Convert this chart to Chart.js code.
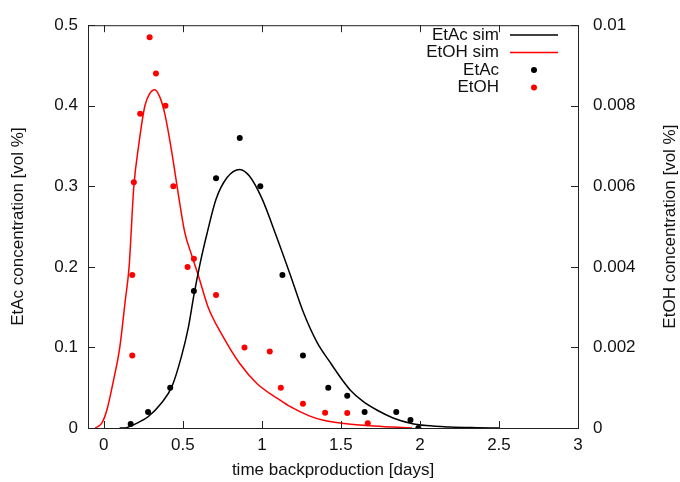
<!DOCTYPE html>
<html>
<head>
<meta charset="utf-8">
<script src="https://cdn.jsdelivr.net/npm/chart.js@4.4.1/dist/chart.umd.min.js"></script>
<style>
  html, body { margin: 0; padding: 0; background: #fff; }
</style>
</head>
<body>
<canvas id="chart" width="680" height="482"></canvas>
<script>
// ——— DATA ———
const xTicks = [0, 0.5, 1, 1.5, 2, 2.5, 3];
const yTicks = [0, 0.1, 0.2, 0.3, 0.4, 0.5];
const y2Ticks = [0, 0.002, 0.004, 0.006, 0.008, 0.01];

// simulated EtAc (left axis)
const etacSimX = [0.10, 0.135, 0.165, 0.22, 0.28, 0.365, 0.43, 0.49, 0.535, 0.57, 0.61, 0.65, 0.71, 0.78, 0.86, 0.92, 1.0, 1.09, 1.18, 1.26, 1.35, 1.43, 1.5, 1.56, 1.64, 1.73, 1.83, 1.94, 2.04, 2.19, 2.36, 2.5];
const etacSimY = [0, 0, 0.002, 0.007, 0.014, 0.031, 0.051, 0.088, 0.125, 0.165, 0.205, 0.239, 0.284, 0.311, 0.321, 0.313, 0.285, 0.239, 0.19, 0.145, 0.106, 0.082, 0.062, 0.047, 0.033, 0.022, 0.0125, 0.006, 0.003, 0.0012, 0.0004, 0];

// simulated EtOH (right axis)
const etohSimX = [-0.055, -0.013, 0.019, 0.057, 0.101, 0.135, 0.16, 0.19, 0.22, 0.26, 0.29, 0.323, 0.354, 0.386, 0.428, 0.47, 0.512, 0.555, 0.597, 0.66, 0.75, 0.86, 0.97, 1.12, 1.18, 1.3, 1.39, 1.52, 1.66, 1.83, 1.95];
const etohSimY = [0, 0.00012, 0.00044, 0.0011, 0.002, 0.00314, 0.004, 0.006, 0.007, 0.008, 0.0083, 0.0084, 0.00822, 0.0078, 0.0069, 0.00584, 0.00486, 0.0043, 0.0038, 0.003, 0.0023, 0.0016, 0.0011, 0.00068, 0.00053, 0.0003, 0.00019, 0.00011, 0.00006, 0.000024, 0];

// measured EtAc (left axis)
const etacX = [0.17, 0.28, 0.42, 0.57, 0.71, 0.86, 0.99, 1.13, 1.26, 1.42, 1.54, 1.65, 1.85, 1.94, 1.99];
const etacY = [0.005, 0.02, 0.05, 0.17, 0.31, 0.36, 0.30, 0.19, 0.09, 0.05, 0.04, 0.02, 0.02, 0.01, 0];

// measured EtOH (right axis)
const etohX = [0.18, 0.18, 0.19, 0.23, 0.29, 0.33, 0.39, 0.44, 0.53, 0.57, 0.71, 0.89, 1.05, 1.12, 1.26, 1.40, 1.54, 1.67];
const etohY = [0.0038, 0.0018, 0.0061, 0.0078, 0.0097, 0.0088, 0.008, 0.006, 0.004, 0.0042, 0.0033, 0.002, 0.0019, 0.001, 0.0006, 0.00038, 0.00037, 0.00012];

const pts = (xs, ys) => xs.map((x, i) => ({ x, y: ys[i] }));

const FONT = { family: "'Liberation Sans', Arial, sans-serif", size: 17 };
const INK = '#111';

// ——— FRAME, INWARD TICKS, Y TITLES, LEGEND ———
const gnuFrame = {
    id: 'gnuFrame',
    afterDraw(chart) {
        const { ctx, chartArea: a, scales } = chart;
        const tl = 7;
        ctx.save();
        ctx.strokeStyle = '#222';
        ctx.lineWidth = 1;
        ctx.strokeRect(a.left + 0.5, a.top + 0.5, a.right - a.left, a.bottom - a.top);
        ctx.beginPath();
        scales.x.ticks.forEach(t => {
            const px = Math.round(scales.x.getPixelForValue(t.value)) + 0.5;
            ctx.moveTo(px, a.bottom); ctx.lineTo(px, a.bottom - tl);
            ctx.moveTo(px, a.top); ctx.lineTo(px, a.top + tl);
        });
        scales.y.ticks.forEach(t => {
            const py = Math.round(scales.y.getPixelForValue(t.value)) + 0.5;
            ctx.moveTo(a.left, py); ctx.lineTo(a.left + tl, py);
        });
        scales.y2.ticks.forEach(t => {
            const py = Math.round(scales.y2.getPixelForValue(t.value)) + 0.5;
            ctx.moveTo(a.right, py); ctx.lineTo(a.right - tl, py);
        });
        ctx.stroke();

        // axis titles (both read upwards)
        ctx.fillStyle = INK;
        ctx.font = `${FONT.size}px ${FONT.family}`;
        ctx.textAlign = 'center';
        ctx.textBaseline = 'middle';
        const cy = (a.top + a.bottom) / 2;
        [[18, 'EtAc concentration [vol %]'], [670, 'EtOH concentration [vol %]']].forEach(([x, txt]) => {
            ctx.save();
            ctx.translate(x, cy);
            ctx.rotate(-Math.PI / 2);
            ctx.fillText(txt, 0, 0);
            ctx.restore();
        });

        // legend
        const rows = [
            { label: 'EtAc sim', color: '#000', line: true },
            { label: 'EtOH sim', color: '#f00', line: true },
            { label: 'EtAc', color: '#000', line: false },
            { label: 'EtOH', color: '#f00', line: false }
        ];
        ctx.textAlign = 'right';
        rows.forEach((r, i) => {
            const y = 35 + i * 17.5;
            ctx.fillStyle = INK;
            ctx.fillText(r.label, 499, y);
            if (r.line) {
                ctx.strokeStyle = r.color;
                ctx.lineWidth = 1.5;
                ctx.beginPath();
                ctx.moveTo(510, y); ctx.lineTo(558, y);
                ctx.stroke();
            } else {
                ctx.fillStyle = r.color;
                ctx.beginPath();
                ctx.arc(534, y, 3, 0, Math.PI * 2);
                ctx.fill();
            }
        });
        ctx.restore();
    }
};

const fixedTicks = arr => scale => { scale.ticks = arr.map(v => ({ value: v })); };

new Chart(document.getElementById('chart'), {
    type: 'scatter',
    data: {
        datasets: [
            { label: 'EtAc sim', data: pts(etacSimX, etacSimY), yAxisID: 'y', showLine: true, borderColor: '#000', borderWidth: 1.5, pointRadius: 0, cubicInterpolationMode: 'monotone' },
            { label: 'EtOH sim', data: pts(etohSimX, etohSimY), yAxisID: 'y2', showLine: true, borderColor: '#f00', borderWidth: 1.5, pointRadius: 0, cubicInterpolationMode: 'monotone' },
            { label: 'EtAc', data: pts(etacX, etacY), yAxisID: 'y', backgroundColor: '#000', borderWidth: 0, pointRadius: 3 },
            { label: 'EtOH', data: pts(etohX, etohY), yAxisID: 'y2', backgroundColor: '#f00', borderWidth: 0, pointRadius: 3 }
        ]
    },
    options: {
        responsive: false,
        animation: false,
        devicePixelRatio: 1,
        layout: { padding: { top: 21, left: 0, right: 0, bottom: 0 } },
        plugins: { legend: { display: false }, tooltip: { enabled: false } },
        scales: {
            x: {
                type: 'linear', min: -0.1, max: 3,
                afterBuildTicks: fixedTicks(xTicks),
                afterFit: s => { s.height = 54; },
                grid: { display: false, drawTicks: false },
                border: { display: false },
                ticks: { padding: 7, font: FONT, color: INK, maxRotation: 0, callback: v => String(v) },
                title: { display: true, text: 'time backproduction [days]', font: FONT, color: INK, padding: { top: 4, bottom: 1 } }
            },
            y: {
                type: 'linear', position: 'left', min: 0, max: 0.5,
                afterBuildTicks: fixedTicks(yTicks),
                afterFit: s => { s.width = 88; },
                grid: { display: false, drawTicks: false },
                border: { display: false },
                ticks: { padding: 10, font: FONT, color: INK, callback: v => String(v) }
            },
            y2: {
                type: 'linear', position: 'right', min: 0, max: 0.01,
                afterBuildTicks: fixedTicks(y2Ticks),
                afterFit: s => { s.width = 102; },
                grid: { display: false, drawTicks: false },
                border: { display: false },
                ticks: { padding: 15, font: FONT, color: INK, callback: v => String(v) }
            }
        }
    },
    plugins: [gnuFrame]
});
</script>
</body>
</html>
